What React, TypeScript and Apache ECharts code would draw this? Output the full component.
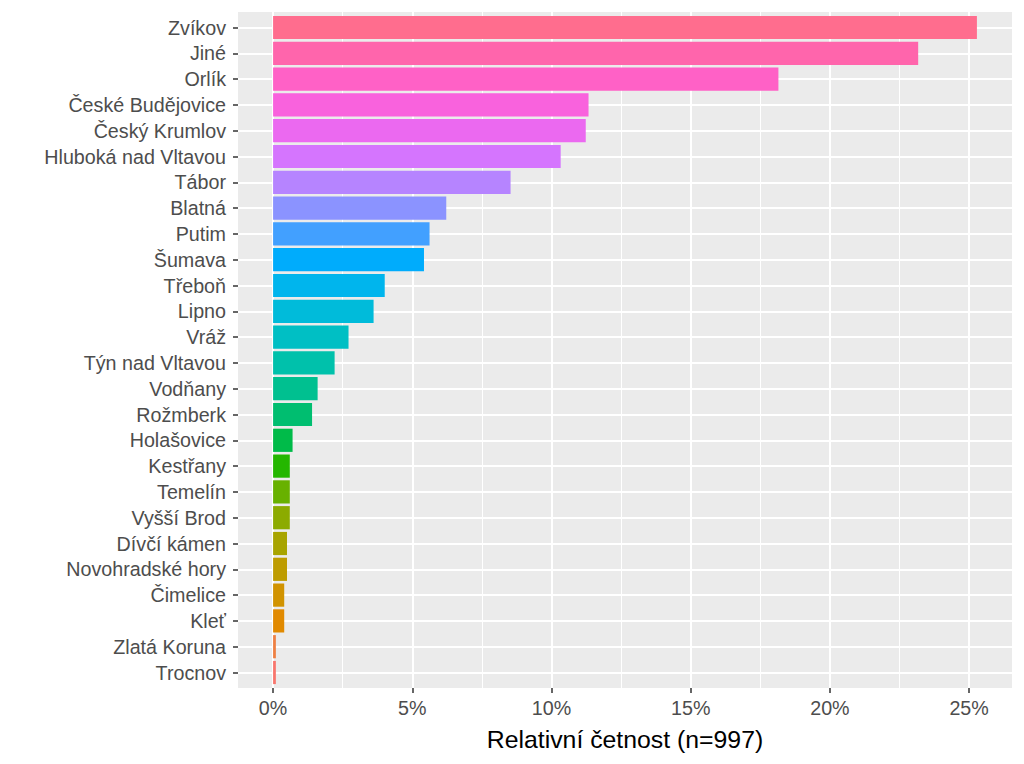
import React, { useEffect, useRef } from "react";
import * as echarts from "echarts";

// Categories top to bottom
const CATEGORIES = [
  "Zvíkov",
  "Jiné",
  "Orlík",
  "České Budějovice",
  "Český Krumlov",
  "Hluboká nad Vltavou",
  "Tábor",
  "Blatná",
  "Putim",
  "Šumava",
  "Třeboň",
  "Lipno",
  "Vráž",
  "Týn nad Vltavou",
  "Vodňany",
  "Rožmberk",
  "Holašovice",
  "Kestřany",
  "Temelín",
  "Vyšší Brod",
  "Dívčí kámen",
  "Novohradské hory",
  "Čimelice",
  "Kleť",
  "Zlatá Koruna",
  "Trocnov",
];

// Relative frequency in %
const PERCENT = [
  25.28, 23.17, 18.15, 11.33, 11.23, 10.33, 8.53, 6.22, 5.62, 5.42, 4.01, 3.61,
  2.71, 2.21, 1.6, 1.4, 0.7, 0.6, 0.6, 0.6, 0.5, 0.5, 0.4, 0.4, 0.1, 0.1,
];

const X_TICKS = [0, 5, 10, 15, 20, 25];
const X_MINOR = [2.5, 7.5, 12.5, 17.5, 22.5];
const X_TITLE = "Relativní četnost (n=997)";

// ggplot2-like hue palette (HCL -> sRGB)
function hcl(h: number, c: number, l: number): string {
  const hr = (h * Math.PI) / 180;
  const U = c * Math.cos(hr);
  const V = c * Math.sin(hr);
  const Y = l > 7.999592 ? Math.pow((l + 16) / 116, 3) : l / 903.3;
  const Xn = 0.95047, Yn = 1.0, Zn = 1.08883;
  const t = Xn + 15 * Yn + 3 * Zn;
  const un = (4 * Xn) / t;
  const vn = (9 * Yn) / t;
  const u = U / (13 * l) + un;
  const v = V / (13 * l) + vn;
  const X = (9 * Y * u) / (4 * v);
  const Z = (Y * (12 - 3 * u - 20 * v)) / (4 * v);
  const lin = [
    3.240479 * X - 1.53715 * Y - 0.498535 * Z,
    -0.969256 * X + 1.875992 * Y + 0.041556 * Z,
    0.055648 * X - 0.204043 * Y + 1.057311 * Z,
  ];
  const hex = lin
    .map((x) => {
      let g = x <= 0.0031308 ? 12.92 * x : 1.055 * Math.pow(x, 1 / 2.4) - 0.055;
      g = Math.min(1, Math.max(0, g));
      const s = Math.round(g * 255).toString(16);
      return s.length === 1 ? "0" + s : s;
    })
    .join("");
  return "#" + hex;
}

function huePal(n: number): string[] {
  const out: string[] = [];
  for (let i = 0; i < n; i++) out.push(hcl(15 + (360 * i) / n, 100, 65));
  return out;
}

const FONT = "Liberation Sans, Arial, Helvetica, sans-serif";

export default function App() {
  const ref = useRef<HTMLDivElement>(null);

  useEffect(() => {
    if (!ref.current) return;
    const chart = echarts.init(ref.current, null, { renderer: "svg" });
    const n = CATEGORIES.length;
    const pal = huePal(n);
    const xMin = -1.26;
    const xMax = 26.54;

    const option: any = {
      animation: false,
      backgroundColor: "#FFFFFF",
      grid: [
        {
          left: 238,
          top: 12,
          width: 774,
          height: 676,
          show: true,
          backgroundColor: "#EBEBEB",
          borderWidth: 0,
          containLabel: false,
        },
        {
          left: 238,
          top: 27.5,
          width: 774,
          height: 645,
          show: false,
          containLabel: false,
        },
      ],
      xAxis: [
        {
          type: "value",
          gridIndex: 0,
          position: "bottom",
          min: xMin,
          max: xMax,
          axisLine: { show: false, onZero: false },
          axisTick: {
            show: true,
            length: 5,
            customValues: X_TICKS,
            lineStyle: { color: "#333333", width: 1.5 },
          },
          axisLabel: {
            show: true,
            customValues: X_TICKS,
            formatter: (v: number) => v + "%",
            color: "#4D4D4D",
            fontSize: 19.7,
            fontFamily: FONT,
            margin: 10,
          },
          splitLine: {
            show: true,
            lineStyle: { color: "#FFFFFF", width: 2 },
          },
          name: X_TITLE,
          nameLocation: "middle",
          nameGap: 39,
          nameTextStyle: { color: "#000000", fontSize: 24.8, fontFamily: FONT },
        },
        {
          type: "value",
          gridIndex: 0,
          min: xMin,
          max: xMax,
          axisLine: { show: false, onZero: false },
          axisTick: { show: false, customValues: X_MINOR },
          axisLabel: { show: false },
          splitLine: {
            show: true,
            lineStyle: { color: "#FFFFFF", width: 1 },
          },
        },
        {
          type: "value",
          gridIndex: 1,
          min: xMin,
          max: xMax,
          show: false,
          axisLine: { onZero: false },
          splitLine: { show: false },
        },
      ],
      yAxis: [
        {
          type: "value",
          gridIndex: 0,
          min: 0,
          max: 1,
          show: false,
          axisLine: { onZero: false },
          splitLine: { show: false },
        },
        {
          type: "category",
          gridIndex: 1,
          position: "left",
          data: CATEGORIES,
          inverse: true,
          boundaryGap: false,
          axisLine: { show: false, onZero: false },
          axisTick: {
            show: true,
            length: 5,
            interval: 0,
            lineStyle: { color: "#333333", width: 1.5 },
          },
          axisLabel: {
            show: true,
            interval: 0,
            color: "#4D4D4D",
            fontSize: 19.7,
            fontFamily: FONT,
            margin: 12,
          },
          splitLine: {
            show: true,
            interval: 0,
            lineStyle: { color: "#FFFFFF", width: 2 },
          },
        },
      ],
      series: [
        {
          type: "bar",
          xAxisIndex: 2,
          yAxisIndex: 1,
          barWidth: 23.2,
          clip: false,
          data: PERCENT.map((v, i) => ({
            value: v,
            itemStyle: { color: pal[n - 1 - i] },
          })),
        },
      ],
    };

    chart.setOption(option);
    return () => chart.dispose();
  }, []);

  return (
    <div
      ref={ref}
      style={{ position: "fixed", left: 0, top: 0, width: 1024, height: 764 }}
    />
  );
}
